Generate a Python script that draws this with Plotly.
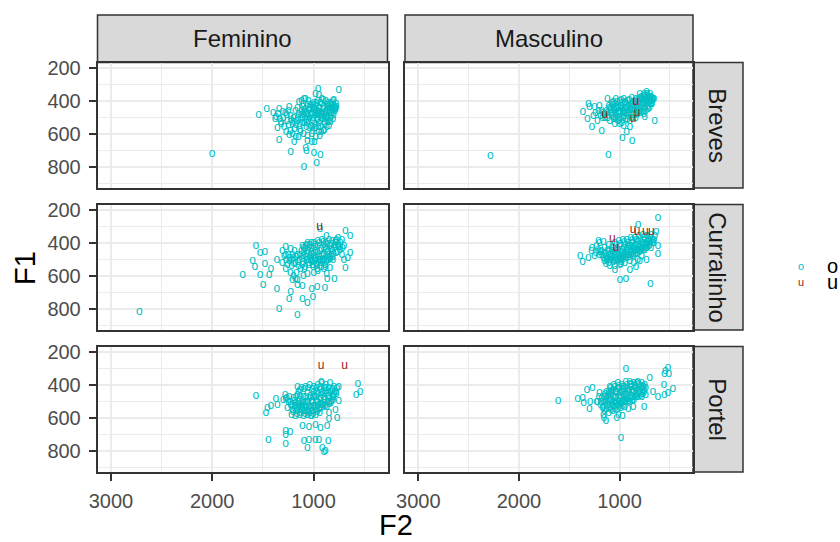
import plotly.graph_objects as go

FONT = "Liberation Sans, Arial, sans-serif"
TEAL = "#00BFC4"
RED = "#9E1B1B"

sex_labels = ["Feminino", "Masculino"]
place_labels = ["Breves", "Curralinho", "Portel"]
vowel_labels = ["o", "u"]

# (F2, F1) pairs
fem_breves_o = [
    (2000, 718), (752, 332), (955, 326), (981, 356), (948, 362), (1543, 482), (1464, 446),
    (1340, 446), (1242, 436), (1373, 496), (1324, 526), (1357, 566), (1340, 636), (1242, 606),
    (1226, 706), (1193, 646), (1079, 686), (1072, 702), (997, 712), (932, 726), (1095, 796),
    (971, 772), (991, 646), (899, 576), (834, 526), (785, 446), (801, 396), (1144, 406),
    (1095, 386), (1177, 616),
    (1100, 420), (1080, 450), (1060, 480), (1040, 440), (1020, 470), (1000, 500), (980, 430),
    (960, 460), (940, 490), (920, 420), (900, 450), (880, 480), (860, 410), (840, 440),
    (820, 470), (800, 430), (790, 460), (1110, 500), (1090, 530), (1070, 560), (1050, 520),
    (1030, 550), (1010, 580), (990, 540), (970, 510), (950, 530), (930, 560), (910, 510),
    (890, 540), (870, 500), (850, 520), (830, 490), (810, 510), (1120, 460), (1150, 480),
    (1170, 520), (1140, 550), (1130, 590), (1100, 600), (1060, 610), (1020, 600), (980, 620),
    (950, 590), (1000, 410), (960, 400), (920, 390), (880, 400), (840, 420), (1050, 400),
    (1080, 390), (1120, 400), (1160, 440), (1180, 460), (1200, 500), (1210, 540), (1190, 570),
    (1150, 620), (1060, 640), (1020, 650), (940, 610), (900, 580), (870, 560), (850, 550),
    (1000, 450), (1010, 520), (1040, 500), (960, 480), (930, 470), (1070, 470), (1100, 480),
    (1130, 510), (860, 460), (820, 450), (780, 420), (810, 400), (1280, 470), (1300, 500),
    (1260, 520), (1320, 540), (1290, 560), (1250, 460), (1230, 490), (1350, 480), (1380, 510),
    (1400, 470), (1270, 590), (1230, 580), (1210, 600),
    (1105, 435), (1085, 465), (1065, 425), (1045, 455), (1025, 485), (1005, 425), (985, 455),
    (965, 515), (945, 445), (925, 505), (905, 435), (885, 465), (865, 495), (845, 455),
    (825, 425), (805, 485), (785, 445), (995, 475), (975, 415), (955, 475), (935, 415),
    (915, 485), (895, 525), (875, 455), (855, 435), (835, 505), (815, 455), (1015, 445),
    (1035, 425), (1055, 495), (1075, 515), (1095, 455), (1115, 535), (1015, 555), (985, 565),
    (955, 555), (925, 585), (895, 495), (865, 525), (845, 475), (825, 415), (795, 445),
    (775, 435), (1045, 565), (1065, 535), (975, 485), (945, 465), (905, 395), (865, 425),
    (1125, 485), (1155, 505), (1135, 575), (1175, 545), (1195, 525), (1225, 515), (1245, 545),
    (1265, 485), (1305, 465), (1335, 510),
]
fem_breves_u = []

masc_breves_o = [
    (2284, 730), (1112, 724), (1365, 466), (1309, 416), (1299, 436), (1250, 436), (1319, 506),
    (1276, 556), (1178, 582), (1122, 390), (971, 622), (875, 640), (931, 586), (898, 556),
    (652, 522), (734, 346), (669, 386), (800, 356), (751, 496),
    (1090, 440), (1070, 470), (1050, 420), (1030, 450), (1010, 480), (990, 430), (970, 460),
    (950, 410), (930, 440), (910, 470), (890, 420), (870, 450), (850, 400), (830, 430),
    (810, 460), (790, 390), (770, 420), (750, 440), (730, 400), (710, 380), (700, 420),
    (690, 400), (680, 380), (720, 370), (760, 370), (800, 380), (840, 390), (880, 380),
    (920, 400), (960, 390), (1000, 400), (1040, 390), (1080, 410), (1110, 430), (1130, 460),
    (1150, 480), (1120, 500), (1100, 520), (1080, 490), (1060, 510), (1040, 480), (1020, 520),
    (1000, 500), (980, 530), (960, 490), (940, 510), (920, 490), (900, 520), (880, 500),
    (860, 480), (840, 500), (820, 480), (800, 470), (780, 460), (760, 480), (740, 460),
    (720, 450), (1180, 460), (1200, 430), (1170, 500), (1240, 470), (1260, 490), (1220, 520),
    (1000, 460), (950, 470), (900, 450), (860, 430), (820, 410), (780, 410), (740, 420),
    (700, 400), (1060, 440), (1020, 430), (980, 450), (940, 440), (1000, 540), (960, 550),
    (1050, 540), (680, 420), (660, 390), (700, 360),
    (1095, 455), (1075, 425), (1055, 455), (1035, 435), (1015, 465), (995, 445), (975, 415),
    (955, 445), (935, 475), (915, 425), (895, 455), (875, 425), (855, 455), (835, 445),
    (815, 425), (795, 445), (775, 395), (755, 415), (735, 385), (715, 405), (695, 385),
    (675, 395), (745, 375), (785, 375), (825, 395), (865, 405), (905, 395), (945, 405),
    (985, 395), (1025, 405), (1065, 405), (1105, 445), (1125, 475), (1085, 475), (1065, 495),
    (1045, 505), (1005, 515), (965, 505), (925, 515), (885, 485), (845, 485), (805, 455),
    (765, 465), (725, 435), (705, 445), (685, 410), (765, 395), (805, 405), (845, 415),
    (885, 435), (925, 455), (965, 475), (1025, 495), (1145, 500), (1165, 470), (1190, 490),
    (1210, 460), (725, 355), (755, 355), (695, 375),
]
masc_breves_u = [(1145, 486), (839, 406), (826, 472), (866, 506)]

fem_curralinho_o = [
    (2719, 818), (935, 318), (687, 326), (638, 360), (638, 460), (664, 492), (687, 550),
    (1700, 592), (1569, 416), (1527, 460), (1481, 456), (1602, 510), (1579, 542), (1527, 596),
    (1481, 526), (1497, 656), (1422, 556), (1438, 596), (1363, 502), (1363, 680), (1242, 736),
    (1226, 696), (1340, 796), (1161, 832), (1111, 740), (1062, 760), (1007, 726), (1020, 680),
    (964, 666), (889, 672), (866, 616), (794, 616), (1161, 626), (1161, 652), (1111, 660),
    (1210, 626), (1275, 556), (1308, 446), (1275, 426), (1226, 436), (1111, 416), (873, 360),
    (785, 386),
    (1080, 420), (1060, 450), (1040, 480), (1020, 430), (1000, 460), (980, 490), (960, 420),
    (940, 450), (920, 480), (900, 410), (880, 440), (860, 470), (840, 420), (820, 450),
    (800, 430), (780, 460), (760, 410), (740, 440), (1070, 500), (1050, 520), (1030, 510),
    (1010, 530), (990, 510), (970, 540), (950, 500), (930, 520), (910, 500), (890, 530),
    (870, 500), (850, 490), (830, 480), (810, 500), (1100, 480), (1120, 450), (1140, 500),
    (1160, 470), (1180, 520), (1200, 490), (1220, 540), (1240, 510), (1150, 540), (1130, 560),
    (1110, 530), (1090, 560), (1190, 450), (1210, 470), (1250, 470), (1270, 500), (1290, 480),
    (1310, 520), (1230, 580), (1200, 600), (1180, 620), (1170, 580), (1100, 600), (1060, 590),
    (1000, 580), (960, 570), (900, 560), (870, 590), (840, 550), (1040, 410), (1000, 400),
    (960, 390), (920, 380), (880, 400), (850, 380), (820, 390), (780, 400), (760, 370),
    (720, 380), (700, 420), (720, 470), (700, 500), (1100, 430), (1060, 400), (1020, 470),
    (980, 450), (940, 500), (900, 470), (860, 450),
    (1085, 435), (1065, 465), (1045, 425), (1025, 455), (1005, 485), (985, 425), (965, 455),
    (945, 485), (925, 435), (905, 465), (885, 425), (865, 455), (845, 485), (825, 435),
    (805, 465), (785, 425), (765, 455), (745, 425), (1075, 485), (1055, 505), (1035, 495),
    (1015, 515), (995, 495), (975, 525), (955, 515), (935, 505), (915, 515), (895, 495),
    (875, 515), (855, 505), (835, 495), (815, 485), (1095, 455), (1115, 495), (1135, 475),
    (1155, 515), (1175, 485), (1195, 525), (1215, 505), (1105, 515), (1085, 545), (1045, 535),
    (1005, 545), (965, 555), (925, 545), (885, 545), (1065, 415), (1025, 400), (985, 410),
    (945, 400), (905, 395), (865, 405), (825, 405), (795, 415), (775, 385), (755, 425),
    (735, 400), (715, 430), (1255, 530), (1275, 470), (1235, 490),
]
fem_curralinho_u = [(940, 305)]

masc_curralinho_o = [
    (619, 252), (816, 292), (1391, 480), (1368, 516), (1309, 490), (1276, 432), (1210, 386),
    (1161, 396), (1135, 526), (1046, 562), (990, 526), (981, 516), (898, 562), (839, 546),
    (800, 506), (734, 502), (997, 626), (938, 620), (695, 646), (619, 416), (619, 466),
    (636, 336),
    (1200, 470), (1180, 450), (1160, 490), (1140, 460), (1120, 440), (1100, 480), (1080, 450),
    (1060, 430), (1040, 470), (1020, 440), (1000, 420), (980, 460), (960, 430), (940, 410),
    (920, 450), (900, 420), (880, 400), (860, 440), (840, 410), (820, 390), (800, 430),
    (780, 400), (760, 380), (740, 420), (720, 390), (700, 370), (680, 400), (660, 380),
    (650, 360), (1150, 510), (1130, 500), (1110, 520), (1090, 500), (1070, 490), (1050, 510),
    (1030, 490), (1010, 480), (990, 500), (970, 480), (950, 470), (930, 490), (910, 470),
    (890, 460), (870, 480), (850, 450), (830, 460), (810, 440), (790, 450), (770, 430),
    (750, 440), (730, 430), (710, 420), (690, 430), (1050, 400), (1010, 390), (970, 380),
    (930, 380), (890, 370), (850, 370), (810, 360), (770, 350), (730, 360), (690, 350),
    (1230, 420), (1200, 400), (1250, 480), (1280, 450), (1100, 540), (1050, 540), (1000, 530),
    (950, 520), (900, 510), (860, 520), (820, 500), (780, 480), (1110, 410), (1150, 430),
    (1195, 455), (1175, 475), (1155, 465), (1135, 485), (1115, 455), (1095, 465), (1075, 475),
    (1055, 455), (1035, 445), (1015, 465), (995, 455), (975, 445), (955, 455), (935, 435),
    (915, 425), (895, 445), (875, 425), (855, 425), (835, 435), (815, 415), (795, 425),
    (775, 415), (755, 405), (735, 405), (715, 395), (695, 395), (675, 385), (665, 400),
    (1125, 505), (1105, 505), (1085, 485), (1065, 515), (1045, 495), (1025, 505), (1005, 495),
    (985, 485), (965, 495), (945, 485), (925, 470), (905, 485), (885, 475), (865, 465),
    (845, 465), (825, 445), (805, 455), (785, 435), (765, 440), (745, 430), (725, 415),
    (705, 410), (1075, 425), (1035, 415), (995, 405), (955, 395), (915, 400), (875, 385),
    (835, 385), (795, 375), (755, 365), (715, 375), (1215, 440), (1235, 460),
]
masc_curralinho_u = [(866, 320), (826, 332), (744, 336), (685, 336), (1072, 376), (1036, 432)]

fem_portel_o = [
    (562, 396), (540, 444), (579, 460), (1569, 464), (1471, 570), (1455, 540), (1422, 526),
    (1373, 484), (1357, 520), (1275, 484), (1259, 540), (1161, 410), (925, 380), (752, 410),
    (752, 496), (785, 554), (768, 600), (866, 650), (932, 660), (981, 644), (1046, 656),
    (1111, 650), (1275, 680), (1232, 686), (1275, 700), (1445, 730), (1275, 756), (1095, 740),
    (1046, 734), (981, 734), (948, 734), (857, 740), (1062, 780), (915, 780), (899, 806),
    (883, 800), (850, 570), (850, 606), (1030, 590),
    (1200, 480), (1180, 510), (1160, 460), (1140, 490), (1120, 520), (1100, 470), (1080, 500),
    (1060, 450), (1040, 480), (1020, 510), (1000, 440), (980, 470), (960, 500), (940, 430),
    (920, 460), (900, 490), (880, 420), (860, 450), (840, 480), (820, 430), (800, 460),
    (780, 440), (770, 420), (1190, 540), (1170, 560), (1150, 530), (1130, 550), (1110, 540),
    (1090, 560), (1070, 530), (1050, 550), (1030, 540), (1010, 560), (990, 530), (970, 550),
    (950, 520), (930, 540), (910, 520), (890, 510), (870, 530), (850, 500), (830, 510),
    (810, 490), (1250, 500), (1230, 520), (1210, 550), (1240, 470), (1280, 460), (1300, 490),
    (1220, 580), (1180, 590), (1140, 580), (1100, 590), (1060, 580), (1020, 590), (980, 580),
    (940, 570), (1120, 420), (1080, 410), (1040, 400), (1000, 410), (960, 400), (920, 390),
    (880, 400), (840, 390), (800, 410), (1150, 440), (1010, 470), (970, 440), (930, 480),
    (890, 450), (860, 470), (1060, 500), (1100, 510),
    (1195, 495), (1175, 475), (1155, 505), (1135, 465), (1115, 495), (1095, 525), (1075, 475),
    (1055, 505), (1035, 465), (1015, 495), (995, 465), (975, 495), (955, 455), (935, 485),
    (915, 445), (895, 475), (875, 435), (855, 465), (835, 445), (815, 475), (795, 445),
    (775, 455), (1185, 525), (1165, 545), (1145, 515), (1125, 535), (1105, 555), (1085, 535),
    (1065, 555), (1045, 525), (1025, 555), (1005, 525), (985, 545), (965, 525), (945, 545),
    (925, 515), (905, 535), (885, 525), (865, 505), (845, 515), (825, 495), (805, 475),
    (1215, 520), (1235, 500), (1265, 480), (1205, 565), (1165, 575), (1125, 570), (1085, 575),
    (1045, 570), (1005, 575), (965, 565), (1135, 430), (1095, 425), (1055, 420), (1015, 425),
    (975, 420), (935, 415), (895, 420), (855, 420), (815, 425),
]
fem_portel_u = [(925, 286), (693, 286)]

masc_portel_o = [
    (1611, 494), (938, 306), (987, 720), (1417, 486), (1368, 476), (1358, 506), (1299, 546),
    (1293, 500), (1227, 500), (1325, 430), (1270, 416), (1161, 580), (1155, 600), (1135, 620),
    (1030, 600), (1013, 584), (971, 590), (915, 546), (866, 530), (757, 530), (741, 460),
    (702, 360), (669, 440), (619, 470), (554, 460), (521, 450), (471, 424), (560, 400),
    (521, 300), (544, 314), (511, 336), (554, 336),
    (1150, 470), (1130, 440), (1110, 490), (1090, 460), (1070, 430), (1050, 480), (1030, 450),
    (1010, 420), (990, 470), (970, 440), (950, 410), (930, 460), (910, 430), (890, 400),
    (870, 450), (850, 420), (830, 390), (810, 440), (790, 410), (770, 430), (750, 400),
    (740, 420), (1140, 510), (1120, 520), (1100, 540), (1080, 510), (1060, 530), (1040, 500),
    (1020, 520), (1000, 500), (980, 510), (960, 490), (940, 500), (920, 480), (900, 500),
    (880, 470), (860, 490), (840, 460), (820, 470), (800, 450), (780, 470), (760, 450),
    (1180, 480), (1200, 450), (1220, 500), (1190, 520), (1170, 540), (1150, 560), (1110, 570),
    (1070, 560), (1030, 550), (990, 540), (950, 530), (1100, 410), (1060, 400), (1020, 390),
    (980, 400), (940, 380), (900, 380), (860, 390), (820, 380), (780, 390), (1000, 450),
    (960, 460), (920, 440), (880, 430), (1080, 450), (1040, 470), (1120, 460),
    (1145, 455), (1125, 475), (1105, 455), (1085, 435), (1065, 465), (1045, 445), (1025, 425),
    (1005, 465), (985, 445), (965, 425), (945, 455), (925, 425), (905, 445), (885, 415),
    (865, 435), (845, 405), (825, 425), (805, 435), (785, 425), (765, 415), (755, 435),
    (1135, 495), (1115, 505), (1095, 495), (1075, 525), (1055, 505), (1035, 515), (1015, 495),
    (995, 515), (975, 495), (955, 505), (935, 485), (915, 495), (895, 485), (875, 495),
    (855, 475), (835, 475), (815, 455), (795, 465), (775, 455), (1165, 500), (1185, 500),
    (1205, 470), (1160, 530), (1130, 545), (1090, 550), (1050, 545), (1010, 535), (970, 525),
    (1090, 420), (1050, 415), (1010, 405), (970, 410), (930, 400), (890, 395), (850, 400),
    (810, 395), (770, 405), (1110, 445),
]
masc_portel_u = []

panel_data = {
    ("Feminino", "Breves"): (fem_breves_o, fem_breves_u),
    ("Masculino", "Breves"): (masc_breves_o, masc_breves_u),
    ("Feminino", "Curralinho"): (fem_curralinho_o, fem_curralinho_u),
    ("Masculino", "Curralinho"): (masc_curralinho_o, masc_curralinho_u),
    ("Feminino", "Portel"): (fem_portel_o, fem_portel_u),
    ("Masculino", "Portel"): (masc_portel_o, masc_portel_u),
}

W, H = 840, 542
col_px = [(97.5, 387.5), (405, 693)]
row_px = [(62.5, 188), (204.5, 330), (346.5, 472)]
strip_top = 15
strip_right = 743
X_RANGE = [3132, 270]
Y_RANGE = [925, 168]


def fx(p):
    return p / W


def fy(p):
    return 1 - p / H


fig = go.Figure()
layout = dict(
    width=W, height=H, margin=dict(l=0, r=0, t=0, b=0, autoexpand=False),
    paper_bgcolor="white", plot_bgcolor="white", showlegend=False,
    font=dict(family=FONT),
)
shapes = []
annotations = []

for r, place in enumerate(place_labels):
    for c, sex in enumerate(sex_labels):
        k = r * 2 + c + 1
        sfx = "" if k == 1 else str(k)
        o_pts, u_pts = panel_data[(sex, place)]
        for pts, lab, col in ((o_pts, "o", TEAL), (u_pts, "u", RED)):
            if not pts:
                continue
            fig.add_trace(go.Scatter(
                x=[p[0] for p in pts], y=[p[1] for p in pts],
                mode="text", text=[lab] * len(pts),
                textfont=dict(color=col, size=12, family=FONT),
                textposition="middle center",
                xaxis="x" + sfx, yaxis="y" + sfx, hoverinfo="skip",
            ))
        c0, c1 = col_px[c]
        r0, r1 = row_px[r]
        bottom = r == 2
        left = c == 0
        layout["xaxis" + sfx] = dict(
            domain=[fx(c0), fx(c1)], range=X_RANGE, anchor="y" + sfx, automargin=False,
            tickmode="linear", tick0=0, dtick=1000,
            showgrid=True, gridcolor="#EBEBEB", gridwidth=2,
            minor=dict(tick0=0, dtick=500, showgrid=True, gridcolor="#EBEBEB", gridwidth=1, ticks=""),
            showline=True, mirror=True, linecolor="#333333", linewidth=1.5,
            zeroline=False, showticklabels=bottom,
            ticks="outside" if bottom else "", ticklen=7, tickwidth=2, tickcolor="#333333",
            ticklabelstandoff=3,
            tickfont=dict(size=20, color="#4D4D4D", family=FONT),
        )
        layout["yaxis" + sfx] = dict(
            domain=[fy(r1), fy(r0)], range=Y_RANGE, anchor="x" + sfx, automargin=False,
            tickmode="linear", tick0=0, dtick=200,
            showgrid=True, gridcolor="#EBEBEB", gridwidth=2,
            minor=dict(tick0=0, dtick=100, showgrid=True, gridcolor="#EBEBEB", gridwidth=1, ticks=""),
            showline=True, mirror=True, linecolor="#333333", linewidth=1.5,
            zeroline=False, showticklabels=left,
            ticks="outside" if left else "", ticklen=7, tickwidth=2, tickcolor="#333333",
            ticklabelstandoff=4,
            tickfont=dict(size=20, color="#4D4D4D", family=FONT),
        )

# column strips
for c, sex in enumerate(sex_labels):
    c0, c1 = col_px[c]
    shapes.append(dict(type="rect", xref="paper", yref="paper",
                       x0=fx(c0), x1=fx(c1), y0=fy(row_px[0][0]), y1=fy(strip_top),
                       fillcolor="#D9D9D9", line=dict(color="#333333", width=1.5), layer="below"))
    annotations.append(dict(xref="paper", yref="paper", x=fx((c0 + c1) / 2),
                            y=fy((strip_top + row_px[0][0]) / 2), text=sex, showarrow=False,
                            xanchor="center", yanchor="middle",
                            font=dict(size=24, color="#1A1A1A", family=FONT)))
# row strips
for r, place in enumerate(place_labels):
    r0, r1 = row_px[r]
    shapes.append(dict(type="rect", xref="paper", yref="paper",
                       x0=fx(col_px[1][1]), x1=fx(strip_right), y0=fy(r1), y1=fy(r0),
                       fillcolor="#D9D9D9", line=dict(color="#333333", width=1.5), layer="below"))
    annotations.append(dict(xref="paper", yref="paper", x=fx((col_px[1][1] + strip_right) / 2),
                            y=fy((r0 + r1) / 2), text=place, showarrow=False, textangle=90,
                            xanchor="center", yanchor="middle",
                            font=dict(size=24, color="#1A1A1A", family=FONT)))

# axis titles
annotations.append(dict(xref="paper", yref="paper", x=fx(396), y=fy(525), text="F2",
                        showarrow=False, xanchor="center", yanchor="middle",
                        font=dict(size=29, color="black", family=FONT)))
annotations.append(dict(xref="paper", yref="paper", x=fx(25), y=fy(268), text="F1",
                        showarrow=False, textangle=-90, xanchor="center", yanchor="middle",
                        font=dict(size=29, color="black", family=FONT)))

# legend
legend_colors = [TEAL, RED]
for i, lab in enumerate(vowel_labels):
    yy = 266 + i * 16
    annotations.append(dict(xref="paper", yref="paper", x=fx(801), y=fy(yy), text=lab,
                            showarrow=False, xanchor="center", yanchor="middle",
                            font=dict(size=11, color=legend_colors[i], family=FONT)))
    annotations.append(dict(xref="paper", yref="paper", x=fx(825), y=fy(yy), text=lab,
                            showarrow=False, xanchor="left", yanchor="middle",
                            font=dict(size=20, color="black", family=FONT)))

layout["shapes"] = shapes
layout["annotations"] = annotations
fig.update_layout(**layout)
fig.write_html("out.html")
